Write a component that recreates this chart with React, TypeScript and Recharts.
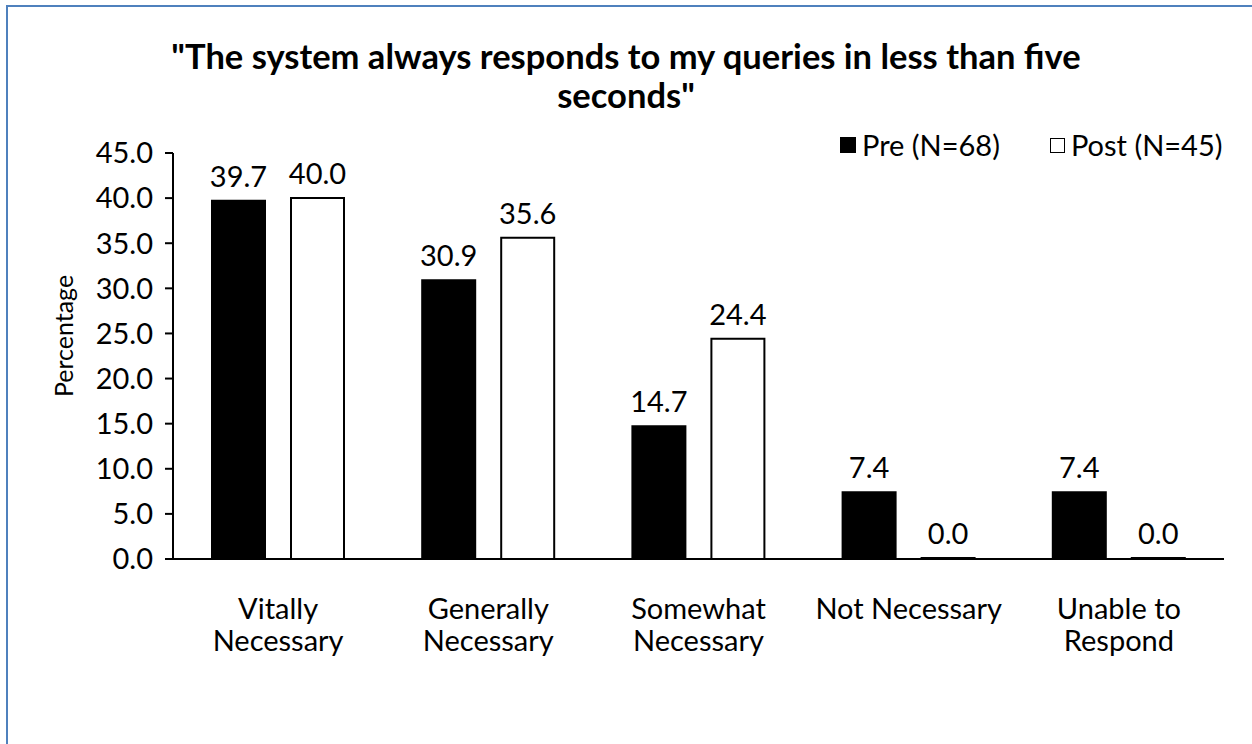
import React from "react";
import { BarChart, Bar, XAxis, YAxis, LabelList } from "recharts";

const categories = ["Vitally Necessary", "Generally Necessary", "Somewhat Necessary", "Not Necessary", "Unable to Respond"];
const categoryLines = [["Vitally", "Necessary"], ["Generally", "Necessary"], ["Somewhat", "Necessary"], ["Not Necessary"], ["Unable to", "Respond"]];
const preValues = [39.7, 30.9, 14.7, 7.4, 7.4];
const postValues = [40.0, 35.6, 24.4, 0.0, 0.0];
const yTicks = [0, 5, 10, 15, 20, 25, 30, 35, 40, 45];
const seriesNames = ["Pre (N=68)", "Post (N=45)"];
const titleLines = ['"The system always responds to my queries in less than five', 'seconds"'];
const yAxisTitle = "Percentage";

const data = categories.map((c, i) => ({ name: c, pre: preValues[i], post: postValues[i] }));

const FONT = "Lato, 'Open Sans', sans-serif";
const FS = 29;

const XTick = (props: any) => {
  const { x, y, payload } = props;
  const lines = categoryLines[payload.index] || [payload.value];
  return (
    <g transform={`translate(${x},${y})`}>
      {lines.map((l: string, i: number) => (
        <text key={i} x={0} y={52 + i * 32} textAnchor="middle" fontFamily={FONT} fontSize={FS} fill="#000">
          {l}
        </text>
      ))}
    </g>
  );
};

const YTitle = (props: any) => {
  const vb = props.viewBox || {};
  const cx = vb.x - 30;
  const cy = vb.y + vb.height / 2 - 20;
  return (
    <text x={cx} y={cy} transform={`rotate(-90 ${cx} ${cy})`} textAnchor="middle" dominantBaseline="central" fontFamily={FONT} fontSize={25} fill="#000">
      {yAxisTitle}
    </text>
  );
};

export default function App() {
  return (
    <div style={{ position: "absolute", left: 0, top: 0, width: 1252, height: 744, overflow: "hidden", background: "#fff" }}>
      <div style={{ position: "absolute", left: 6, top: 5, width: 1300, height: 800, border: "2.5px solid #4f81bd", boxSizing: "border-box" }} />
      <div style={{ position: "absolute", left: 0, top: 36, width: 1252, textAlign: "center", fontFamily: FONT, fontWeight: 700, fontSize: 34.5, lineHeight: "39px", color: "#000" }}>
        {titleLines.map((t, i) => (
          <div key={i}>{t}</div>
        ))}
      </div>
      <div style={{ position: "absolute", left: 840, top: 128, display: "flex", alignItems: "center", fontFamily: FONT, fontSize: FS, color: "#000", lineHeight: "34px", whiteSpace: "nowrap" }}>
        <span style={{ display: "inline-block", width: 16, height: 16, background: "#000", marginRight: 6 }} />
        <span style={{ marginRight: 50 }}>{seriesNames[0]}</span>
        <span style={{ display: "inline-block", width: 15, height: 15, border: "1.5px solid #000", boxSizing: "border-box", background: "#fff", marginRight: 6 }} />
        <span>{seriesNames[1]}</span>
      </div>
      <div style={{ position: "absolute", left: 0, top: 0 }}>
        <BarChart width={1252} height={744} data={data} margin={{ top: 153, right: 28, bottom: 155, left: 93 }} barSize={53} barGap={26}>
          <XAxis dataKey="name" height={30} axisLine={{ stroke: "#000", strokeWidth: 2 }} tickLine={false} tick={<XTick />} interval={0} />
          <YAxis
            width={80}
            domain={[0, 45]}
            ticks={yTicks}
            interval={0}
            tickFormatter={(v: number) => v.toFixed(1)}
            axisLine={{ stroke: "#000", strokeWidth: 2 }}
            tickLine={{ stroke: "#000", strokeWidth: 2 }}
            tickSize={8}
            tickMargin={12}
            tick={{ fontFamily: FONT, fontSize: FS, fill: "#000" }}
            label={<YTitle />}
          />
          <Bar dataKey="pre" name={seriesNames[0]} fill="#000" stroke="#000" strokeWidth={2} minPointSize={1} isAnimationActive={false}>
            <LabelList dataKey="pre" position="top" offset={14} formatter={(v: number) => v.toFixed(1)} style={{ fontFamily: FONT, fontSize: FS, fill: "#000" }} />
          </Bar>
          <Bar dataKey="post" name={seriesNames[1]} fill="#fff" stroke="#000" strokeWidth={2} minPointSize={1} isAnimationActive={false}>
            <LabelList dataKey="post" position="top" offset={14} formatter={(v: number) => v.toFixed(1)} style={{ fontFamily: FONT, fontSize: FS, fill: "#000" }} />
          </Bar>
        </BarChart>
      </div>
    </div>
  );
}
